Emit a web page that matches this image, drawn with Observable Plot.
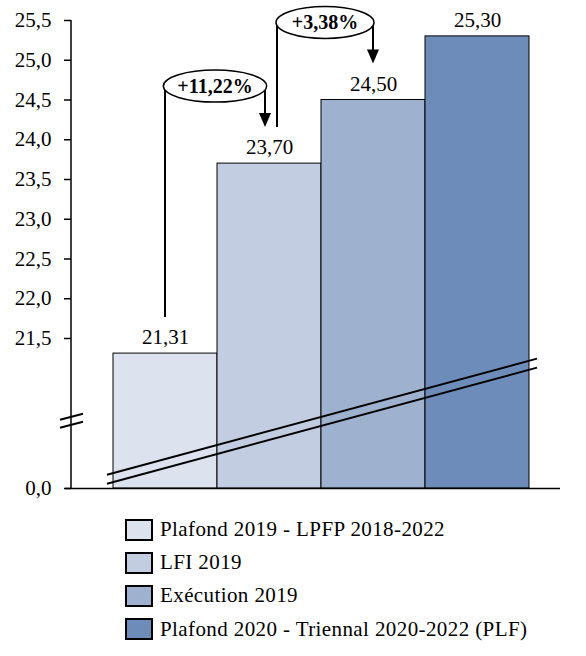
<!DOCTYPE html>
<html><head><meta charset="utf-8">
<script src="https://cdn.jsdelivr.net/npm/d3@7"></script>
<script src="https://cdn.jsdelivr.net/npm/@observablehq/plot@0.6"></script>
<style>
body{margin:0;background:#fff;font-family:"Liberation Serif",serif;color:#000;}
#legend{margin-left:125px;margin-top:8px;}
.row{display:flex;align-items:center;height:33.2px;font-size:21px;letter-spacing:0.4px;white-space:nowrap;}
.sw{width:28px;height:22px;box-sizing:border-box;border:2px solid #000;margin-right:7px;flex:none;}
</style></head><body>
<div id="chart"></div><div id="legend"></div>
<script>
const categories = ["Plafond 2019 - LPFP 2018-2022", "LFI 2019", "Exécution 2019", "Plafond 2020 - Triennal 2020-2022 (PLF)"];
const values = [21.31, 23.70, 24.50, 25.30];
const colors = ["#dde3ee", "#c3cde1", "#9eb1cf", "#6e8cb9"];
const tickValues = [21.5, 22, 22.5, 23, 23.5, 24, 24.5, 25, 25.5];
const zeroLabel = "0,0";
const axisBase = 19.613;          // bottom of the broken axis, labelled "0,0"
const axisBreakAt = 20.46;        // where the "//" break sits on the axis
const breakLine = [19.78, 21.24]; // y values at the start and end of the diagonal break lines
const changeLabels = ["+11,22%", "+3,38%"];

const FONT = "'Liberation Serif', serif";
const data = categories.map((c, i) => ({cat: c, value: values[i]}));
const fmt2 = v => v.toFixed(2).replace(".", ",");
const fmt1 = v => v.toFixed(1).replace(".", ",");

const measure = (() => {
  const ctx = document.createElement("canvas").getContext("2d");
  return (t, font) => { ctx.font = font; return ctx.measureText(t).width; };
})();

function decorations(index, scales, vals, dim) {
  const x = scales.x, y = scales.y;
  const step = x(categories[1]) - x(categories[0]);
  const center = c => x(c) + step / 2;
  const g = d3.create("svg:g").attr("fill", "none").attr("stroke", "#000");
  const top = dim.marginTop, bottom = dim.height - dim.marginBottom, left = dim.marginLeft;
  // axis line
  g.append("line").attr("x1", left).attr("x2", left).attr("y1", top).attr("y2", bottom).attr("stroke-width", 1.5);
  // axis break marks
  const yb = y(axisBreakAt);
  for (const off of [-4, 4]) {
    g.append("line").attr("x1", left - 11).attr("x2", left + 12)
      .attr("y1", yb + off + 3).attr("y2", yb + off - 3).attr("stroke-width", 2);
  }
  // diagonal break lines across the bars
  const xs = x(categories[0]) - 6, xe = x(categories[categories.length - 1]) + step + 8;
  for (const off of [0, 9]) {
    g.append("line").attr("x1", xs).attr("x2", xe)
      .attr("y1", y(breakLine[0]) + off).attr("y2", y(breakLine[1]) + off).attr("stroke-width", 2);
  }
  // change annotations
  const font = "bold 20px 'Liberation Serif'";
  changeLabels.forEach((lab, i) => {
    const from = categories[i], to = categories[i + 1];
    const lx = center(from) + (i > 0 ? 8 : 0);
    const rx = center(to) - (i < changeLabels.length - 1 ? 4 : 0);
    const ey = y(values[i + 1]) - 77;
    const ly = y(values[i]) - 36;
    const ty = y(values[i + 1]) - 36;
    const cx = (lx + rx) / 2;
    const erx = Math.max((rx - lx) / 2 + 1, measure(lab, font) / 2 + 14);
    g.append("line").attr("x1", lx).attr("x2", lx).attr("y1", ly).attr("y2", ey).attr("stroke-width", 2);
    g.append("line").attr("x1", rx).attr("x2", rx).attr("y1", ey).attr("y2", ty - 12).attr("stroke-width", 2);
    g.append("path").attr("d", `M${rx - 6},${ty - 14}L${rx + 6},${ty - 14}L${rx},${ty}Z`).attr("fill", "#000").attr("stroke", "none");
    g.append("ellipse").attr("cx", cx).attr("cy", ey).attr("rx", erx).attr("ry", 16)
      .attr("fill", "#fff").attr("stroke-width", 1.5);
    g.append("text").attr("x", cx).attr("y", ey).attr("dy", "0.34em").attr("text-anchor", "middle")
      .attr("fill", "#000").attr("stroke", "none").attr("font-weight", "bold").attr("font-size", 20)
      .attr("font-family", FONT).text(lab);
  });
  return g.node();
}

const chart = Plot.plot({
  width: 586, height: 505,
  marginTop: 20, marginBottom: 17, marginLeft: 71, marginRight: 26,
  style: {fontFamily: FONT, fontSize: "21px", color: "#000", background: "#fff"},
  x: {domain: categories, paddingInner: 0, paddingOuter: 0.345, align: 0.58, axis: null},
  y: {domain: [axisBase, 25.5], axis: null},
  color: {domain: categories, range: colors},
  marks: [
    Plot.barY(data, {x: "cat", y1: axisBase, y2: "value", fill: "cat", stroke: "#000", strokeWidth: 1}),
    Plot.ruleY([axisBase], {insetLeft: -6, stroke: "#000", strokeWidth: 1.5}),
    Plot.axisY({ticks: [axisBase, ...tickValues], tickFormat: d => d === axisBase ? zeroLabel : fmt1(d),
      label: null, tickSize: 7, tickPadding: 13, fontSize: 21, fontFamily: FONT,
      stroke: "#000", strokeWidth: 1.5, fill: "#000"}),
    Plot.text(data, {x: "cat", y: "value", text: d => fmt2(d.value), dy: -16, fontSize: 21, fontFamily: FONT, fill: "#000"}),
    decorations
  ]
});
document.getElementById("chart").append(chart);

const legend = document.getElementById("legend");
categories.forEach((c, i) => {
  const row = document.createElement("div"); row.className = "row";
  const sw = document.createElement("div"); sw.className = "sw"; sw.style.background = colors[i];
  const t = document.createElement("span"); t.textContent = c;
  row.append(sw, t); legend.append(row);
});
</script>
</body></html>
